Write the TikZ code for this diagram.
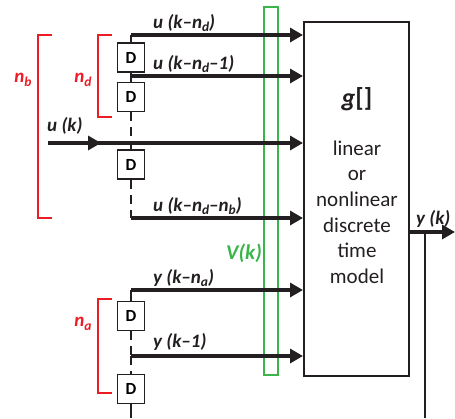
\documentclass[tikz,border=0pt]{standalone}
\usepackage{fontspec}
\setmainfont{Carlito}
\usetikzlibrary{arrows.meta}
\definecolor{myred}{RGB}{237,28,36}
\definecolor{mygreen}{RGB}{57,181,74}
\definecolor{ink}{RGB}{35,31,32}
\newcommand\mysub[1]{\raisebox{-0.4ex}{\fontsize{13.5}{13.5}\selectfont #1}}
\begin{document}
\begin{tikzpicture}[x=1pt,y=-1pt,
  dbox/.style={draw=ink, line width=1.8pt, fill=white, minimum width=27pt, minimum height=29pt, inner sep=0pt, font=\fontsize{17}{17}\selectfont\bfseries},
  sig/.style={draw=ink, line width=3.5pt, -{Triangle[length=13pt,width=14pt]}},
  tap/.style={draw=ink, line width=2.5pt},
  dtap/.style={tap, dash pattern=on 9pt off 6pt},
  lbl/.style={font=\fontsize{19}{19}\selectfont\bfseries\itshape, text=ink, inner sep=0pt, anchor=base west},
  brk/.style={draw=myred, line width=2pt},
  rlbl/.style={font=\fontsize{19}{19}\selectfont\bfseries\itshape, text=myred, inner sep=0pt},
  btxt/.style={font=\fontsize{21}{25.6}\selectfont, text=ink, align=center, inner sep=0pt}
]
\useasboundingbox (0,0) rectangle (455,418);

% model block
\node[draw=ink, line width=2pt, minimum width=105pt, minimum height=354pt, inner sep=0pt] (g) at (356.5,199) {};
\node[font=\fontsize{26}{26}\selectfont\bfseries, text=ink] (gt) at (357,99) {\textit{g}[]};
\node[btxt] (gdesc) at (357,212) {linear\\or\\nonlinear\\discrete\\time\\model};

% tap line coordinates
\coordinate (t1) at (131,35);
\coordinate (t2) at (131,76);
\coordinate (t4) at (131,218);
\coordinate (t5) at (131,290);
\coordinate (t6) at (131,356);
\coordinate (tb) at (131,418);
\coordinate (uin) at (48,143);
\coordinate (umid) at (101,143);

% green box (behind arrows)
\node[draw=mygreen, line width=2pt, minimum width=14pt, minimum height=368pt, inner sep=0pt] (vk) at (271,191) {};

% delay blocks
\node[dbox] (d1) at (131,57.5) {D};
\node[dbox] (d2) at (131,97) {D};
\node[dbox] (d3) at (131,164.5) {D};
\node[dbox] (d4) at (131,316) {D};
\node[dbox] (d5) at (131,389) {D};

% tap lines
\draw[tap] (t1) -- (d1.north);
\draw[tap] (d1.south) -- (d2.north);
\draw[dtap] (d2.south) -- (d3.north);
\draw[dtap] (d3.south) -- (t4);
\draw[tap] (t5) -- (d4.north);
\draw[dtap] (d4.south) -- (t6);
\draw[dtap] (t6) -- (d5.north);
\draw[tap] (d5.south) -- (tb);

% input arrows
\draw[sig] (t1) -- (g.west |- t1);
\draw[sig] (t2) -- (g.west |- t2);
\draw[sig, line width=4pt] (uin) -- (g.west |- uin);
\draw[sig, line width=4pt] (uin) -- (umid);
\draw[sig] (t4) -- (g.west |- t4);
\draw[sig] (t5) -- (g.west |- t5);
\draw[sig] (t6) -- (g.west |- t6);

% labels
\node[lbl] (l1) at (153,28) {u (k–n\mysub{d})};
\node[lbl] (l2) at (153,69) {u (k–n\mysub{d}–1)};
\node[lbl] (l3) at (47,131) {u (k)};
\node[lbl] (l4) at (153,211) {u (k–n\mysub{d}–n\mysub{b})};
\node[lbl] (l5) at (153,283) {y (k–n\mysub{a})};
\node[lbl] (l6) at (153,347) {y (k–1)};

% output
\coordinate (o1) at (g.east |- 0,232);
\coordinate (oe) at (455,232);
\coordinate (ob) at (425,232);
\coordinate (obb) at (425,418);
\draw[sig] (o1) -- (oe);
\draw[tap] (ob) -- (obb);
\node[lbl] (ly) at (416,224) {y (k)};

% brackets
\draw[brk] (52,35) -- (38,35) -- (38,218) -- (52,218);
\draw[brk] (112,35) -- (98,35) -- (98,117) -- (112,117);
\draw[brk] (112,299) -- (98,299) -- (98,393) -- (112,393);
\node[rlbl] (nb) at (23,80) {n\mysub{b}};
\node[rlbl] (nd) at (83,80) {n\mysub{d}};
\node[rlbl] (na) at (83,324) {n\mysub{a}};

% V(k)
\node[font=\fontsize{21}{21}\selectfont\bfseries\itshape, text=mygreen, inner sep=0pt] (vl) at (244,253) {V(k)};
\end{tikzpicture}
\end{document}
